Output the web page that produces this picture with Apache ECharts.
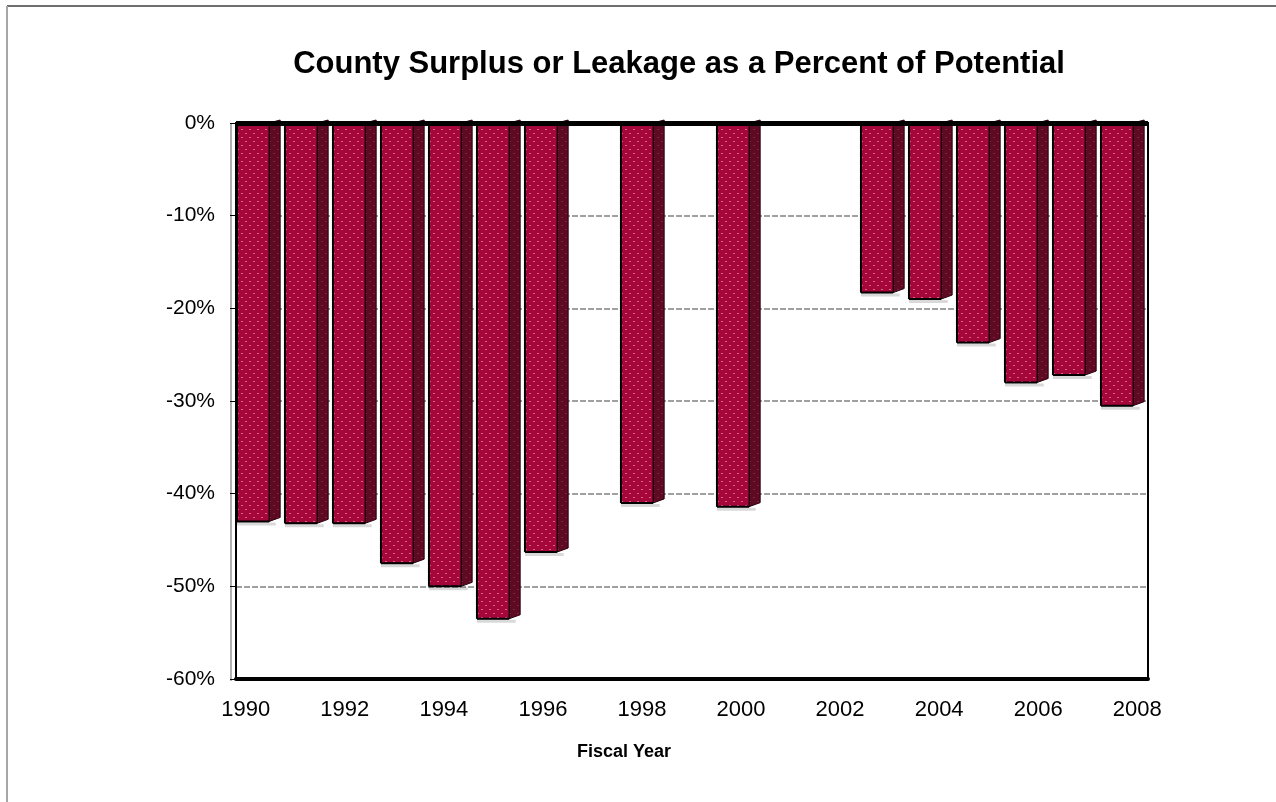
<!DOCTYPE html>
<html>
<head>
<meta charset="utf-8">
<script src="https://cdn.jsdelivr.net/npm/echarts@6/dist/echarts.min.js"></script>
<style>
html,body{margin:0;padding:0;background:#fff;}
#chart{width:1276px;height:802px;}
</style>
</head>
<body>
<div id="chart"></div>
<script>
const years = ['1990','1991','1992','1993','1994','1995','1996','1997','1998','1999','2000','2001','2002','2003','2004','2005','2006','2007','2008'];
const leakage = [-43.0, -43.2, -43.2, -47.5, -50.0, -53.5, -46.3, null, -41.0, null, -41.4, null, null, -18.3, -19.0, -23.7, -28.0, -27.2, -30.5];
const yTicks = [0, -10, -20, -30, -40, -50, -60];

function makePattern(bg, dot) {
  const c = document.createElement('canvas');
  c.width = 8; c.height = 8;
  const g = c.getContext('2d');
  g.fillStyle = bg; g.fillRect(0, 0, 8, 8);
  g.fillStyle = dot;
  g.fillRect(1, 1, 2, 1);
  g.fillRect(5, 5, 2, 1);
  return {image: c, repeat: 'repeat'};
}
const frontFill = makePattern('#A6073A', 'rgba(235,140,165,0.7)');
const sideFill = makePattern('#5E0A22', 'rgba(150,60,85,0.55)');
const FONT = 'Liberation Sans, Arial, sans-serif';

const chart = echarts.init(document.getElementById('chart'));
chart.setOption({
  animation: false,
  backgroundColor: '#fff',
  title: {
    text: 'County Surplus or Leakage as a Percent of Potential',
    left: 674, top: 44, textAlign: 'center',
    textStyle: {fontFamily: FONT, fontSize: 31, fontWeight: 'bold', color: '#000'}
  },
  grid: [
    {left: 236, right: 128, top: 123, bottom: 123, show: true, borderColor: '#000', borderWidth: 2},
    {left: 221, right: 114, top: 123, bottom: 123, show: false}
  ],
  xAxis: [{
    type: 'category', data: years, position: 'bottom', gridIndex: 0,
    axisLine: {onZero: false, lineStyle: {color: '#000', width: 4}},
    axisTick: {show: false},
    axisLabel: {show: false}
  }, {
    type: 'category', data: years, position: 'bottom', gridIndex: 1,
    axisLine: {show: false},
    axisTick: {show: false},
    axisLabel: {interval: 1, margin: 20, fontFamily: FONT, fontSize: 22, color: '#000'}
  }],
  yAxis: [{
    type: 'value', min: -60, max: 0, interval: 10, gridIndex: 0,
    axisLine: {show: true, lineStyle: {color: '#000', width: 2}},
    axisTick: {show: true, length: 6, lineStyle: {color: '#000'}},
    axisLabel: {margin: 21, formatter: v => v + '%', fontFamily: FONT, fontSize: 21, color: '#000'},
    splitLine: {show: true, lineStyle: {color: '#a0a0a0', type: [6, 2], width: 2}}
  }, {
    type: 'value', min: -60, max: 0, gridIndex: 1, show: false
  }],
  graphic: [
    {type: 'line', shape: {x1: 7, y1: 6, x2: 1276, y2: 6}, style: {stroke: '#6e6e6e', lineWidth: 2}},
    {type: 'line', shape: {x1: 7, y1: 6, x2: 7, y2: 802}, style: {stroke: '#a6a6a6', lineWidth: 2}},
    {type: 'line', shape: {x1: 231, y1: 123, x2: 231, y2: 681}, style: {stroke: '#b0b0b0', lineWidth: 2}},
    {type: 'text', left: 577, top: 743, style: {text: 'Fiscal Year', font: 'bold 18px ' + FONT, fill: '#000'}}
  ],
  series: [{
    type: 'custom',
    xAxisIndex: 0, yAxisIndex: 0,
    data: leakage.map((v, i) => [i, v]),
    encode: {x: 0, y: 1},
    renderItem: function (params, api) {
      const v = api.value(1);
      if (v === null || v === undefined || isNaN(v)) return;
      const i = api.value(0);
      const top = api.coord([i, 0]);
      const bot = api.coord([i, v]);
      const cw = api.size([1, 0])[0];
      const fl = top[0] - cw * 0.48;
      const fr = top[0] + cw * 0.19;
      const sw = cw * 0.23;
      return {
        type: 'group',
        children: [
          {type: 'rect', shape: {x: fl, y: bot[1] + 1, width: fr - fl + sw * 0.6, height: 3}, style: {fill: 'rgba(0,0,0,0.15)'}},
          {type: 'polygon', shape: {points: [[fr, top[1]], [fr + sw, top[1] - 3], [fr + sw, bot[1] - 4], [fr, bot[1]]]},
            style: {fill: sideFill, stroke: '#2a0010', lineWidth: 1}},
          {type: 'rect', shape: {x: fl, y: top[1], width: fr - fl, height: bot[1] - top[1]},
            style: {fill: frontFill, stroke: '#000', lineWidth: 1}},
          {type: 'line', shape: {x1: fl, y1: bot[1], x2: fr, y2: bot[1]}, style: {stroke: '#000', lineWidth: 2}},
          {type: 'line', shape: {x1: fl, y1: top[1], x2: fl, y2: bot[1]}, style: {stroke: '#000', lineWidth: 2}}
        ]
      };
    },
    markLine: {
      silent: true, symbol: 'none', label: {show: false},
      lineStyle: {color: '#000', width: 5, type: 'solid'},
      data: [{yAxis: 0}]
    },
    z: 3
  }]
});
</script>
</body>
</html>
